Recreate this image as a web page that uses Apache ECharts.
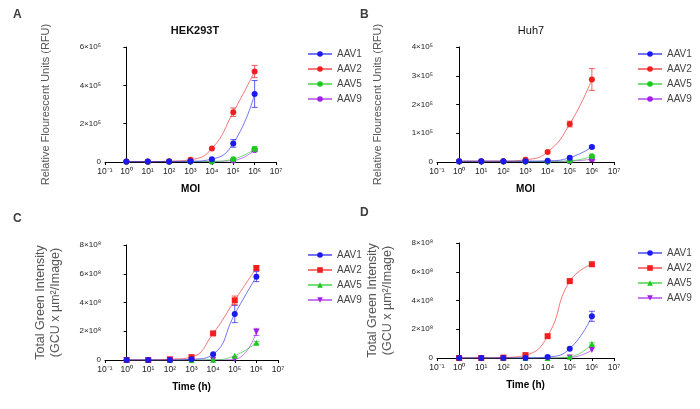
<!DOCTYPE html>
<html><head><meta charset="utf-8">
<script src="https://cdn.jsdelivr.net/npm/echarts@6/dist/echarts.min.js"></script>
<style>html,body{margin:0;padding:0;background:#fff}#c{width:700px;height:409px}</style>
</head><body><div id="c"></div>
<script>
var logMOI = [0,1,2,3,4,5,6];
var names = ['AAV1','AAV2','AAV5','AAV9'];
var colors = ['#1a1af0','#f01e1e','#1ec81e','#a21ee6'];
// Panel A (x1e5 RFU)
var A_AAV1=[0.02,0.02,0.03,0.04,0.15,0.97,3.55], A_AAV2=[0.02,0.02,0.04,0.12,0.70,2.60,4.72],
    A_AAV5=[0.01,0.01,0.02,0.02,0.03,0.15,0.68], A_AAV9=[0.01,0.01,0.01,0.02,0.03,0.08,0.62];
var A_err1=[0,0,0,0,0.03,0.2,0.7], A_err2=[0,0,0,0.02,0.05,0.22,0.32], A_err5=[0,0,0,0,0,0.03,0.12], A_err9=[0,0,0,0,0,0.02,0.08];
// Panel B (x1e5 RFU)
var B_AAV1=[0.03,0.03,0.03,0.03,0.04,0.15,0.52], B_AAV2=[0.03,0.03,0.03,0.08,0.35,1.32,2.87],
    B_AAV5=[0.02,0.02,0.02,0.02,0.02,0.04,0.20], B_AAV9=[0.02,0.02,0.02,0.02,0.02,0.03,0.10];
var B_err1=[0,0,0,0,0,0.02,0.04], B_err2=[0,0,0,0.01,0.03,0.1,0.38], B_err5=[0,0,0,0,0,0,0.03], B_err9=[0,0,0,0,0,0,0.02];
// Panel C (x1e8)
var C_AAV1=[0,0,0,0.05,0.40,3.20,5.80], C_AAV2=[0,0,0.05,0.20,1.85,4.15,6.40],
    C_AAV5=[0,0,0,0,0.02,0.30,1.20], C_AAV9=[0,0,0,0,0,0.05,1.95];
var C_err1=[0,0,0,0,0.05,0.6,0.35], C_err2=[0,0,0,0.02,0.08,0.3,0.15], C_err5=[0,0,0,0,0,0.05,0.08], C_err9=[0,0,0,0,0,0.02,0.25];
// Panel D (x1e8)
var D_AAV1=[0,0,0,0,0.07,0.65,2.90], D_AAV2=[0,0,0.03,0.20,1.52,5.35,6.52],
    D_AAV5=[0,0,0,0,0,0.08,0.98], D_AAV9=[0,0,0,0,0,0.03,0.55];
var D_err1=[0,0,0,0,0.02,0.05,0.35], D_err2=[0,0,0,0.02,0.05,0.1,0.08], D_err5=[0,0,0,0,0,0.02,0.08], D_err9=[0,0,0,0,0,0.01,0.06];
var xTickLabels=['10⁻¹','10⁰','10¹','10²','10³','10⁴','10⁵','10⁶','10⁷'];
var yTicksA=['0','2×10⁵','4×10⁵','6×10⁵'];
var yTicksB=['0','1×10⁵','2×10⁵','3×10⁵','4×10⁵'];
var yTicksCD=['0','2×10⁸','4×10⁸','6×10⁸','8×10⁸'];

var tri='path://M5,0L10,9L0,9Z', itri='path://M0,0L10,0L5,9Z';
var panels=[
 {vals:[A_AAV1,A_AAV2,A_AAV5,A_AAV9],errs:[A_err1,A_err2,A_err5,A_err9],max:6,intv:2,ticks:yTicksA,sym:['circle','circle','circle','circle'],
  grid:{left:105,top:47,width:171,height:115},yname:'Relative Flourescent Units (RFU)',xname:'MOI',legTop:44,legLeft:302},
 {vals:[B_AAV1,B_AAV2,B_AAV5,B_AAV9],errs:[B_err1,B_err2,B_err5,B_err9],max:4,intv:1,ticks:yTicksB,sym:['circle','circle','circle','circle'],
  grid:{left:437,top:47,width:177,height:115},yname:'Relative Flourescent Units (RFU)',xname:'MOI',legTop:44,legLeft:632},
 {vals:[C_AAV1,C_AAV2,C_AAV5,C_AAV9],errs:[C_err1,C_err2,C_err5,C_err9],max:8,intv:2,ticks:yTicksCD,sym:['circle','rect',tri,itri],
  grid:{left:105,top:245,width:173,height:115},yname:'Total Green Intensity\n(GCU x µm²/Image)',xname:'Time (h)',legTop:245,legLeft:302},
 {vals:[D_AAV1,D_AAV2,D_AAV5,D_AAV9],errs:[D_err1,D_err2,D_err5,D_err9],max:8,intv:2,ticks:yTicksCD,sym:['circle','rect',tri,itri],
  grid:{left:437,top:243,width:177,height:115},yname:'Total Green Intensity\n(GCU x µm²/Image)',xname:'Time (h)',legTop:243,legLeft:632}
];
var grids=[],xAxes=[],yAxes=[],series=[],legends=[];
panels.forEach(function(p,gi){
  grids.push(p.grid);
  xAxes.push({type:'value',gridIndex:gi,min:-1,max:7,interval:1,name:p.xname,nameLocation:'middle',nameGap:22,
    nameTextStyle:{fontWeight:'bold',fontSize:10,color:'#000'},
    axisLine:{lineStyle:{color:'#000'}},axisTick:{length:3,lineStyle:{color:'#000'}},splitLine:{show:false},
    axisLabel:{fontSize:8.5,color:'#222',margin:5,formatter:function(v){return xTickLabels[Math.round(v)+1];}}});
  var two=p.yname.indexOf('\n')>=0;
  yAxes.push({type:'value',gridIndex:gi,min:0,max:p.max,interval:p.intv,name:p.yname,nameLocation:'middle',
    nameGap:two?42:53,nameTextStyle:{fontSize:two?12.5:11,color:'#555',lineHeight:two?15:12},
    axisLine:{show:true,lineStyle:{color:'#000'}},axisTick:{show:true,length:3,lineStyle:{color:'#000'}},splitLine:{show:false},
    axisLabel:{fontSize:8,color:'#222',margin:4,formatter:function(v){return p.ticks[Math.round(v/p.intv)];}}});
  var legData=[];
  names.forEach(function(n,si){
    var sname=n+'\u200b'.repeat(gi);
    legData.push(sname);
    series.push({name:sname,type:'line',xAxisIndex:gi,yAxisIndex:gi,smooth:0.5,symbol:p.sym[si],symbolSize:6,
      color:colors[si],lineStyle:{width:1,opacity:0.6},z:3-si+5,
      data:logMOI.map(function(x,i){return [x,p.vals[si][i]];})});
    series.push({type:'custom',xAxisIndex:gi,yAxisIndex:gi,silent:true,z:2,
      data:logMOI.map(function(x,i){return [x,p.vals[si][i]-p.errs[si][i],p.vals[si][i]+p.errs[si][i]];}),
      renderItem:function(params,api){
        var lo=api.coord([api.value(0),api.value(1)]),hi=api.coord([api.value(0),api.value(2)]);
        if(Math.abs(lo[1]-hi[1])<2) return null;
        var st={stroke:colors[si],lineWidth:1,opacity:0.7};
        return {type:'group',children:[
          {type:'line',shape:{x1:lo[0],y1:lo[1],x2:hi[0],y2:hi[1]},style:st},
          {type:'line',shape:{x1:hi[0]-3,y1:hi[1],x2:hi[0]+3,y2:hi[1]},style:st},
          {type:'line',shape:{x1:lo[0]-3,y1:lo[1],x2:lo[0]+3,y2:lo[1]},style:st}]};
      }});
  });
  legends.push({data:legData,orient:'vertical',left:p.legLeft,top:p.legTop,itemGap:5,itemWidth:24,itemHeight:7,
    textStyle:{fontSize:10,color:'#444'},formatter:function(n){return n.replace(/\u200b/g,'');}});
});
var chart=echarts.init(document.getElementById('c'));
chart.setOption({animation:false,
  title:[
    {text:'A',left:8,top:4,textStyle:{fontSize:12,fontWeight:'bold'}},
    {text:'B',left:355,top:4,textStyle:{fontSize:12,fontWeight:'bold'}},
    {text:'C',left:8,top:208,textStyle:{fontSize:12,fontWeight:'bold'}},
    {text:'D',left:355,top:202,textStyle:{fontSize:12,fontWeight:'bold'}},
    {text:'HEK293T',left:190,top:20,textAlign:'center',textStyle:{fontSize:11,fontWeight:'bold',color:'#111'}},
    {text:'Huh7',left:526,top:20,textAlign:'center',textStyle:{fontSize:11,fontWeight:'normal',color:'#111'}}
  ],
  grid:grids,xAxis:xAxes,yAxis:yAxes,series:series,legend:legends});
</script></body></html>
